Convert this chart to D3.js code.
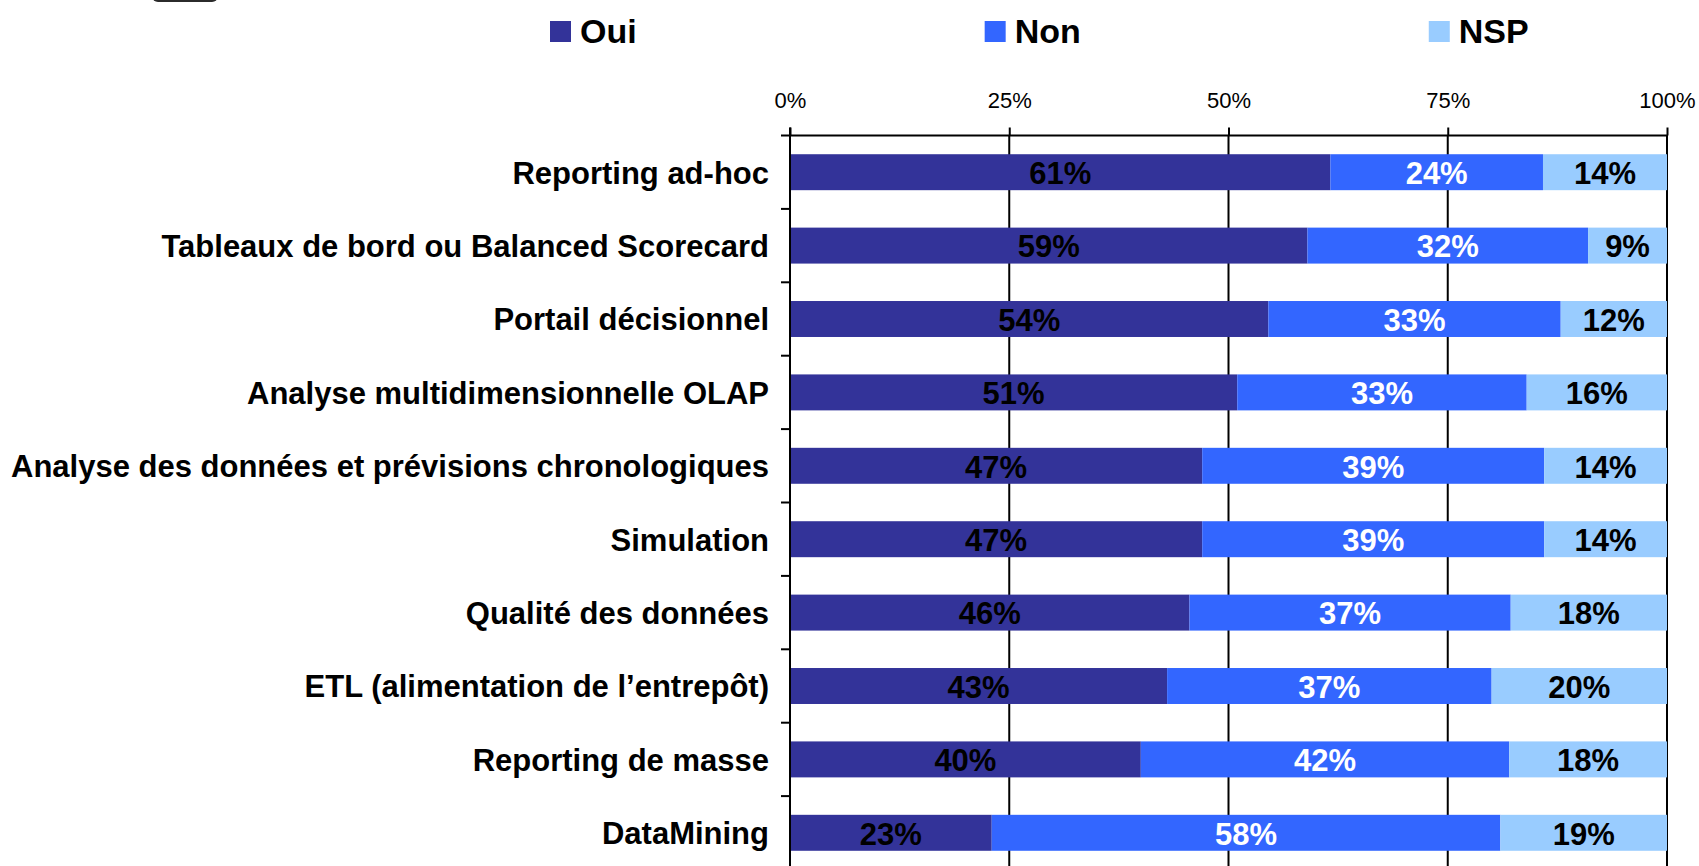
<!DOCTYPE html>
<html>
<head>
<meta charset="utf-8">
<script src="https://cdn.jsdelivr.net/npm/d3@7"></script>
<style>
  body { margin: 0; background: #fff; }
  svg { display: block; font-family: "Liberation Sans", Arial, sans-serif; }
</style>
</head>
<body>
<div id="chart"></div>
<script>
// data
const categories = [
  "Reporting ad-hoc",
  "Tableaux de bord ou Balanced Scorecard",
  "Portail décisionnel",
  "Analyse multidimensionnelle OLAP",
  "Analyse des données et prévisions chronologiques",
  "Simulation",
  "Qualité des données",
  "ETL (alimentation de l\u2019entrepôt)",
  "Reporting de masse",
  "DataMining"
];
const oui = [61, 59, 54, 51, 47, 47, 46, 43, 40, 23];
const non = [24, 32, 33, 33, 39, 39, 37, 37, 42, 58];
const nsp = [14, 9, 12, 16, 14, 14, 18, 20, 18, 19];
const seriesNames = ["Oui", "Non", "NSP"];
const tickValues = [0, 0.25, 0.5, 0.75, 1];

const colors = { Oui: "#333399", Non: "#3366ff", NSP: "#99ccff" };
const labelColors = { Oui: "#000", Non: "#fff", NSP: "#000" };

const width = 1699;
const height = 866;
const x0 = 790, x1 = 1667, axisY = 135.5;

const rows = categories.map((c, i) => ({ cat: c, Oui: oui[i], Non: non[i], NSP: nsp[i] }));
const stacked = d3.stack().keys(seriesNames).offset(d3.stackOffsetExpand)(rows);

const svg = d3.select("#chart")
  .append("svg")
  .attr("width", width)
  .attr("height", height);

const xScale = d3.scaleLinear().domain([0, 1]).range([x0, x1]);
const yScale = d3.scaleBand()
  .domain(categories)
  .range([axisY, axisY + 734])
  .paddingInner(0.51)
  .paddingOuter(0.255);

// small dark tab at top-left (clipped)
svg.append("rect")
  .attr("x", 152).attr("y", -20)
  .attr("width", 66).attr("height", 22)
  .attr("rx", 6)
  .attr("fill", "#2b2b2b");

// vertical gridlines
svg.append("g")
  .selectAll("line")
  .data(tickValues.slice(1))
  .enter()
  .append("line")
  .attr("x1", d => xScale(d))
  .attr("x2", d => xScale(d))
  .attr("y1", axisY)
  .attr("y2", height)
  .attr("stroke", "#000")
  .attr("stroke-width", 2);

// bars
const groups = svg.append("g")
  .selectAll("g")
  .data(stacked)
  .enter()
  .append("g")
  .attr("fill", d => colors[d.key]);

groups.selectAll("rect")
  .data(d => d)
  .enter()
  .append("rect")
  .attr("x", d => xScale(d[0]))
  .attr("y", d => yScale(d.data.cat))
  .attr("width", d => xScale(d[1]) - xScale(d[0]))
  .attr("height", yScale.bandwidth());

// bar labels
stacked.forEach(s => {
  svg.append("g")
    .selectAll("text")
    .data(s)
    .enter()
    .append("text")
    .attr("x", d => (xScale(d[0]) + xScale(d[1])) / 2)
    .attr("y", d => yScale(d.data.cat) + yScale.bandwidth() / 2)
    .attr("dy", "0.38em")
    .attr("text-anchor", "middle")
    .style("font-size", "31px")
    .style("font-weight", "bold")
    .style("fill", labelColors[s.key])
    .text(d => d.data[s.key] + "%");
});

// top axis
const xAxis = d3.axisTop(xScale)
  .tickValues(tickValues)
  .tickFormat(d3.format(".0%"))
  .tickSize(8)
  .tickSizeOuter(0)
  .tickPadding(20);

const gx = svg.append("g")
  .attr("transform", "translate(0," + axisY + ")")
  .call(xAxis);
gx.select(".domain").remove();
gx.selectAll(".tick line").attr("stroke", "#000").attr("stroke-width", 2);
gx.selectAll("text")
  .style("font-size", "22px")
  .style("font-family", "'Liberation Sans', Arial, sans-serif")
  .style("fill", "#000");

svg.append("line")
  .attr("x1", x0 - 9).attr("x2", x1 + 1)
  .attr("y1", axisY).attr("y2", axisY)
  .attr("stroke", "#000").attr("stroke-width", 2);

// left axis line and category boundary ticks
svg.append("line")
  .attr("x1", x0).attr("x2", x0)
  .attr("y1", axisY - 8).attr("y2", height)
  .attr("stroke", "#000").attr("stroke-width", 2);

svg.append("g")
  .selectAll("line")
  .data(categories)
  .enter()
  .append("line")
  .attr("x1", x0 - 9).attr("x2", x0)
  .attr("y1", d => yScale(d) + yScale.bandwidth() / 2 + yScale.step() / 2)
  .attr("y2", d => yScale(d) + yScale.bandwidth() / 2 + yScale.step() / 2)
  .attr("stroke", "#000").attr("stroke-width", 2);

// category labels
const yAxis = d3.axisLeft(yScale).tickSize(0).tickPadding(21);
const gy = svg.append("g")
  .attr("transform", "translate(" + x0 + ",0)")
  .call(yAxis);
gy.select(".domain").remove();
gy.selectAll("text")
  .attr("dy", "0.37em")
  .style("font-size", "31px")
  .style("font-weight", "bold")
  .style("font-family", "'Liberation Sans', Arial, sans-serif")
  .style("fill", "#000");

// legend
const legend = svg.append("g").attr("transform", "translate(550,21)");
let lx = 0;
seriesNames.forEach(name => {
  const item = legend.append("g").attr("transform", "translate(" + lx + ",0)");
  item.append("rect")
    .attr("width", 21).attr("height", 21)
    .attr("fill", colors[name]);
  const t = item.append("text")
    .attr("x", 30).attr("y", 22)
    .style("font-size", "34px")
    .style("font-weight", "bold")
    .style("fill", "#000")
    .text(name);
  lx += 30 + t.node().getComputedTextLength() + 348;
});
</script>
</body>
</html>
